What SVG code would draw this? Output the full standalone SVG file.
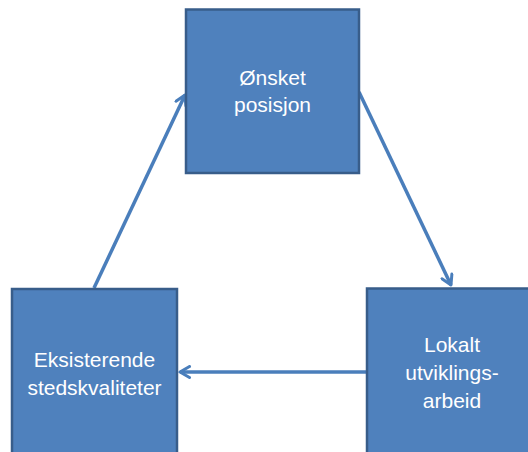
<svg xmlns="http://www.w3.org/2000/svg" width="528" height="452" viewBox="0 0 528 452">
<defs>
<style>
.box{fill:#4F81BD;stroke:#385D8A;stroke-width:2.5}
.lbl{font-family:"Liberation Sans",Arial,sans-serif;font-size:21px;fill:#FFFFFF;text-anchor:middle}
.conn{stroke:#4A7EBB;stroke-width:3.5;fill:none}
</style>
<marker id="arr" viewBox="0 0 14 14" refX="12" refY="7" markerWidth="14" markerHeight="14" markerUnits="userSpaceOnUse" orient="auto">
<path d="M2.5,1.5 L12,7 L2.5,12.5" fill="none" stroke="#4A7EBB" stroke-width="3" stroke-linecap="round" stroke-linejoin="round"/>
</marker>
</defs>
<rect width="528" height="452" fill="#FFFFFF"/>
<g id="connectors">
<line class="conn" x1="94" y1="288" x2="185" y2="95" marker-end="url(#arr)"/>
<line class="conn" x1="359" y1="92" x2="451" y2="285" marker-end="url(#arr)"/>
<line class="conn" x1="367" y1="372" x2="180" y2="372" marker-end="url(#arr)"/>
</g>
<g id="node-onsket">
<rect class="box" x="186" y="9.5" width="173" height="163.5"/>
<text class="lbl" x="272.5" y="85">Ønsket</text>
<text class="lbl" x="272.5" y="112">posisjon</text>
</g>
<g id="node-eksisterende">
<rect class="box" x="12" y="289" width="165" height="175"/>
<text class="lbl" x="94.5" y="367">Eksisterende</text>
<text class="lbl" x="94.5" y="395">stedskvaliteter</text>
</g>
<g id="node-lokalt">
<rect class="box" x="367" y="288.5" width="175" height="175"/>
<text class="lbl" x="452" y="352">Lokalt</text>
<text class="lbl" x="452" y="380">utviklings-</text>
<text class="lbl" x="452" y="408">arbeid</text>
</g>
</svg>
